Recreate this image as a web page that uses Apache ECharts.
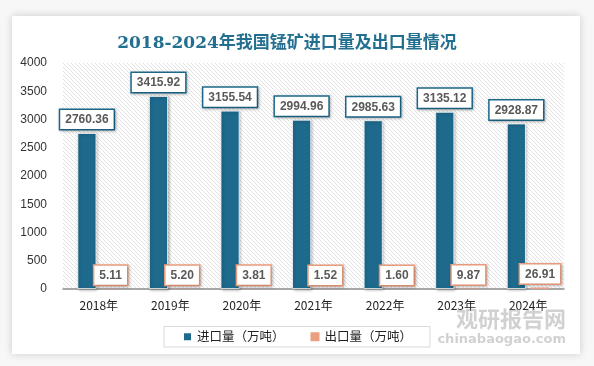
<!DOCTYPE html>
<html>
<head>
<meta charset="utf-8">
<script src="https://cdn.jsdelivr.net/npm/echarts@6/dist/echarts.min.js"></script>
<style>
html,body{margin:0;padding:0;background:#fafafa;}
#wrap{position:relative;width:594px;height:366px;overflow:hidden;background:#f7f7f7;}
#card{position:absolute;left:12px;top:16px;width:568px;height:338px;background:#fff;box-shadow:0 0 8px rgba(0,0,0,0.18);}
#chart{position:absolute;left:0;top:0;width:594px;height:366px;}
</style>
</head>
<body>
<div id="wrap"><div id="card"></div><div id="chart"></div></div>
<script>
const titleText = '2018-2024年我国锰矿进口量及出口量情况';
const categories = ['2018年','2019年','2020年','2021年','2022年','2023年','2024年'];
const importValues = [2760.36, 3415.92, 3155.54, 2994.96, 2985.63, 3135.12, 2928.87];
const exportValues = [5.11, 5.20, 3.81, 1.52, 1.60, 9.87, 26.91];
const seriesNames = ['进口量（万吨）', '出口量（万吨）'];
const yMin = 0, yMax = 4000, yInterval = 500;

// hatch pattern for plot background
const pc = document.createElement('canvas');
pc.width = 4; pc.height = 4;
const g = pc.getContext('2d');
g.fillStyle = '#ffffff'; g.fillRect(0,0,4,4);
g.strokeStyle = '#e2e2e2'; g.lineWidth = 1;
g.beginPath();
g.moveTo(-1,-1); g.lineTo(5,5);
g.moveTo(-1,3); g.lineTo(1,5);
g.moveTo(3,-1); g.lineTo(5,1);
g.stroke();

const chart = echarts.init(document.getElementById('chart'), null, {renderer:'canvas'});
const labelBase = {
  show: true, position: 'top', distance: 4,
  backgroundColor: '#fff', borderWidth: 1.5,
  padding: [4, 5, 3, 5], color: '#595959', fontWeight: 'bold', fontSize: 12,
  fontFamily: 'Liberation Sans, Arial, sans-serif',
  shadowColor: 'rgba(0,0,0,0.25)', shadowBlur: 3, shadowOffsetX: 1, shadowOffsetY: 1,
  formatter: p => Number(p.value).toFixed(2)
};
chart.setOption({
  animation: false,
  title: {
    text: titleText, left: 282, top: 30, textAlign: 'center',
    textStyle: {fontSize: 17, fontWeight: 'bold', color: '#236f8f', fontFamily: 'DejaVu Serif, Noto Sans CJK SC, serif'}
  },
  grid: {left: 63, right: 30, top: 63, bottom: 77, show: true, borderWidth: 0,
    backgroundColor: {image: pc, repeat: 'repeat'}},
  legend: {
    data: seriesNames, bottom: 19, left: 'center',
    icon: 'rect', itemWidth: 9, itemHeight: 9, itemGap: 26,
    borderColor: '#d9d9d9', borderWidth: 1, padding: [4, 18, 4, 18],
    textStyle: {fontSize: 12.5, color: '#222', fontFamily: 'Noto Sans CJK SC, sans-serif'}
  },
  xAxis: {
    type: 'category', data: categories,
    axisLine: {lineStyle: {color: '#8c8c8c', width: 1.5}},
    axisTick: {show: false},
    axisLabel: {fontSize: 12, color: '#222', margin: 10, fontFamily: 'Noto Sans CJK SC, sans-serif'}
  },
  yAxis: {
    type: 'value', min: yMin, max: yMax, interval: yInterval,
    axisLine: {show: false}, axisTick: {show: false}, splitLine: {show: false},
    axisLabel: {fontSize: 12, color: '#333', margin: 16, fontFamily: 'Liberation Sans, sans-serif',
      formatter: v => String(v)}
  },
  series: [
    {name: seriesNames[0], type: 'bar', data: importValues, barWidth: 19, barGap: '25%',
      itemStyle: {color: '#1d6a8d', borderColor: '#fff', borderWidth: 0.8,
        shadowColor: 'rgba(0,0,0,0.3)', shadowBlur: 3, shadowOffsetX: 1, shadowOffsetY: 1},
      label: Object.assign({}, labelBase, {borderColor: '#1d6a8d'})},
    {name: seriesNames[1], type: 'bar', data: exportValues, barWidth: 19,
      itemStyle: {color: '#e99f80'},
      label: Object.assign({}, labelBase, {borderColor: '#ef9e7d'})}
  ],
  graphic: [
    {type: 'text', right: 28, bottom: 36, silent: true, z: 100,
      style: {text: '观研报告网', fontSize: 22, fontWeight: 'bold', fill: 'rgba(140,140,140,0.4)', fontFamily: 'Noto Sans CJK SC, sans-serif'}},
    {type: 'text', right: 28, bottom: 20, silent: true, z: 100,
      style: {text: 'chinabaogao.com', fontSize: 13, fontWeight: 'bold', fill: 'rgba(140,140,140,0.4)', fontFamily: 'DejaVu Sans, sans-serif'}}
  ]
});
</script>
</body>
</html>
